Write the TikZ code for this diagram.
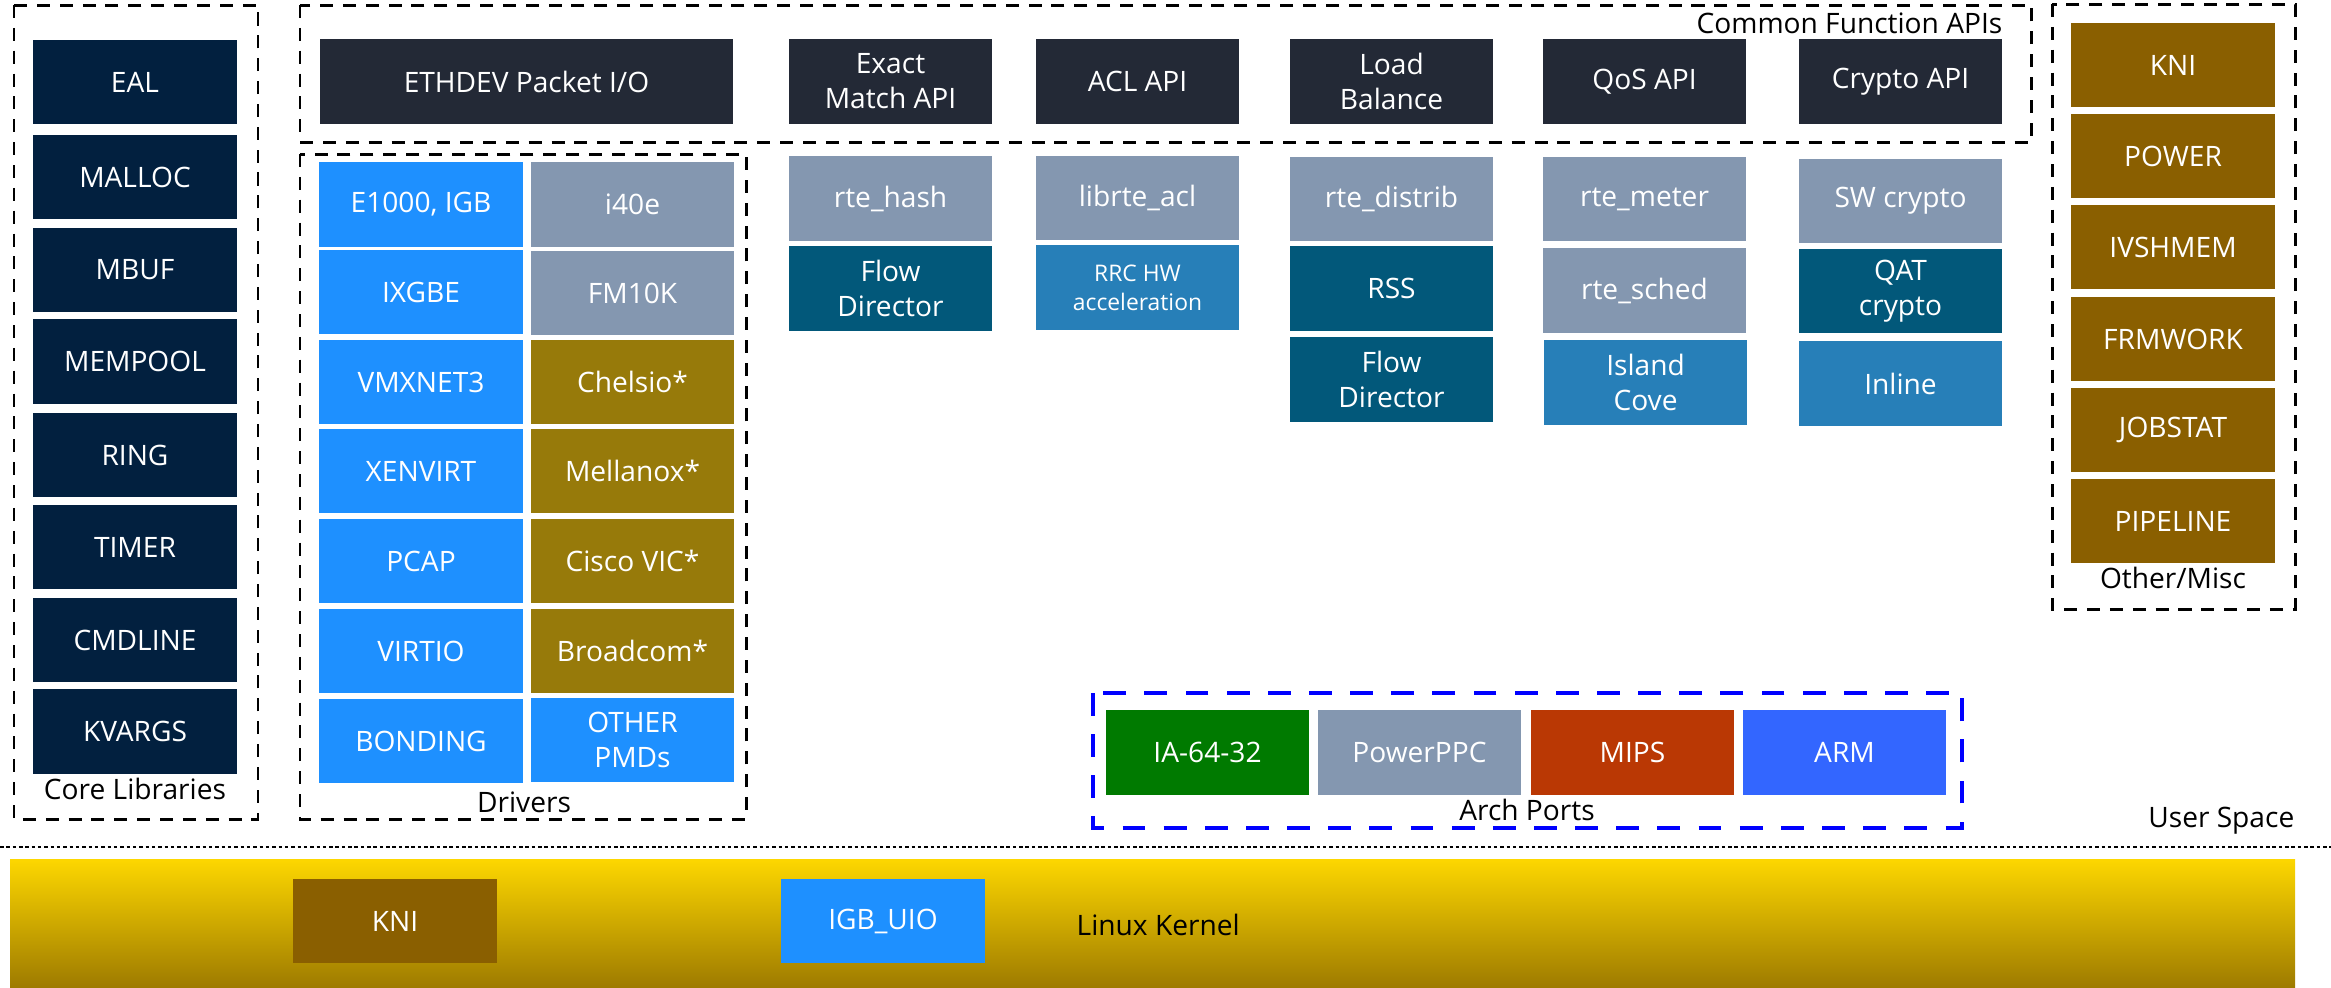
\documentclass[tikz,border=0pt]{standalone}
\usepackage{fontspec}
\setmainfont{Open Sans}
\usetikzlibrary{positioning}
\definecolor{ccore}{HTML}{02203F}
\definecolor{capi}{HTML}{232936}
\definecolor{cdrv}{HTML}{1E90FF}
\definecolor{cslate}{HTML}{8497B0}
\definecolor{colive}{HTML}{977A0A}
\definecolor{cmisc}{HTML}{8A5F00}
\definecolor{cteal}{HTML}{02587A}
\definecolor{chw}{HTML}{277FB8}
\definecolor{cia}{HTML}{007A00}
\definecolor{cmips}{HTML}{BA3804}
\definecolor{carm}{HTML}{3366FF}
\definecolor{kgold}{HTML}{FDD700}
\definecolor{kbrown}{HTML}{9E7B00}
\tikzset{
  every picture/.style={font=\fontsize{8}{10}\selectfont},
  blk/.style={fill=#1, text=white, align=center, inner sep=0pt, minimum width=2.03cm, minimum height=0.845cm},
  blk/.default=ccore,
  frame/.style={draw=black, line width=0.85pt, dash pattern=on 3.7pt off 2.8pt},
  archframe/.style={draw=blue, line width=1.3pt, dash pattern=on 6.5pt off 5.2pt},
  small/.style={font=\fontsize{6.5}{8.2}\selectfont},
  lbl/.style={text=black, inner sep=0pt},
}

\begin{document}
\begin{tikzpicture}[x=0.01cm, y=-0.01cm]
  \useasboundingbox (0,0) rectangle (2331,987);
  % group frames
  \draw[frame] (14,5) rectangle (258,819);
  \draw[frame] (300,154) rectangle (746,819);
  \draw[frame] (300,5) rectangle (2031,142);
  \draw[frame] (2052,4) rectangle (2295,609);
  \draw[archframe] (1093,693) rectangle (1962,828);
  % core libraries
  \node[blk=ccore] (eal) at (135,82) {EAL};
  \node[blk=ccore] (malloc) at (135,177) {MALLOC};
  \node[blk=ccore] (mbuf) at (135,270) {MBUF};
  \node[blk=ccore] (mempool) at (135,361.5) {MEMPOOL};
  \node[blk=ccore] (ring) at (135,455) {RING};
  \node[blk=ccore] (timer) at (135,547) {TIMER};
  \node[blk=ccore] (cmdline) at (135,640) {CMDLINE};
  \node[blk=ccore] (kvargs) at (135,731.5) {KVARGS};
  \node[lbl] (corelbl) at (135,789) {Core Libraries};
  % common function APIs
  \node[blk=capi, minimum width=4.13cm] (ethdev) at (526.5,81.5) {ETHDEV Packet I/O};
  \node[blk=capi] (exact) at (890.5,81.5) {Exact\\Match API};
  \node[blk=capi] (aclapi) at (1137.5,81.5) {ACL API};
  \node[blk=capi] (load) at (1391.5,81.5) {Load\\Balance};
  \node[blk=capi] (qos) at (1644.5,81.5) {QoS API};
  \node[blk=capi] (crypto) at (1900.5,81.5) {Crypto API};
  \node[lbl, anchor=east] (apilbl) at (2003,23) {Common Function APIs};
  % libraries under the APIs
  \node[blk=cslate] (hash) at (890.5,198.5) {rte\_hash};
  \node[blk=cteal] (fdir) at (890.5,288.5) {Flow\\Director};
  \node[blk=cslate] (acl) at (1137.5,198) {librte\_acl};
  \node[blk=chw, small] (rrc) at (1137.5,287.5) {RRC HW\\acceleration};
  \node[blk=cslate] (distrib) at (1391.5,199) {rte\_distrib};
  \node[blk=cteal] (rss) at (1391.5,288.5) {RSS};
  \node[blk=cteal] (fdirb) at (1391.5,379.5) {Flow\\Director};
  \node[blk=cslate] (meter) at (1644.5,199) {rte\_meter};
  \node[blk=cslate] (sched) at (1644.5,290.5) {rte\_sched};
  \node[blk=chw] (island) at (1645.5,382.5) {Island\\Cove};
  \node[blk=cslate] (swcrypto) at (1900.5,201) {SW crypto};
  \node[blk=cteal] (qat) at (1900.5,291) {QAT\\crypto};
  \node[blk=chw] (inline) at (1900.5,383.5) {Inline};
  % drivers
  \node[blk=cdrv] (e1000) at (421,204.5) {E1000, IGB};
  \node[blk=cslate] (i40e) at (632.5,204.5) {i40e};
  \node[blk=cdrv] (ixgbe) at (421,292) {IXGBE};
  \node[blk=cslate] (fm10k) at (632.5,293) {FM10K};
  \node[blk=cdrv] (vmxnet) at (421,382) {VMXNET3};
  \node[blk=colive] (chelsio) at (632.5,382) {Chelsio*};
  \node[blk=cdrv] (xenvirt) at (421,471) {XENVIRT};
  \node[blk=colive] (mellanox) at (632.5,471) {Mellanox*};
  \node[blk=cdrv] (pcap) at (421,561) {PCAP};
  \node[blk=colive] (cisco) at (632.5,561) {Cisco VIC*};
  \node[blk=cdrv] (virtio) at (421,651) {VIRTIO};
  \node[blk=colive] (broadcom) at (632.5,651) {Broadcom*};
  \node[blk=cdrv] (bonding) at (421,741) {BONDING};
  \node[blk=cdrv] (otherpmd) at (632.5,740) {OTHER\\PMDs};
  \node[lbl] (drvlbl) at (524,802) {Drivers};
  % other / misc
  \node[blk=cmisc] (kni) at (2173,65) {KNI};
  \node[blk=cmisc] (power) at (2173,156) {POWER};
  \node[blk=cmisc] (ivshmem) at (2173,247) {IVSHMEM};
  \node[blk=cmisc] (frmwork) at (2173,339) {FRMWORK};
  \node[blk=cmisc] (jobstat) at (2173,430) {JOBSTAT};
  \node[blk=cmisc] (pipeline) at (2173,521) {PIPELINE};
  \node[lbl] (misclbl) at (2173,578) {Other/Misc};
  % arch ports
  \node[blk=cia] (ia) at (1207.5,752.5) {IA-64-32};
  \node[blk=cslate] (ppc) at (1419.5,752.5) {PowerPPC};
  \node[blk=cmips] (mips) at (1632.5,752.5) {MIPS};
  \node[blk=carm] (arm) at (1844.5,752.5) {ARM};
  \node[lbl] (archlbl) at (1527,810) {Arch Ports};
  % user / kernel split
  \node[lbl, anchor=east] (userlbl) at (2295,821) {User Space};
  \draw[line width=0.6pt, dash pattern=on 1pt off 0.8pt] (0,847) -- (2331,847);
  \shade[top color=kgold, bottom color=kbrown] (10,859) rectangle (2295,987);
  \node[blk=cmisc] (kkni) at (395,921) {KNI};
  \node[blk=cdrv] (igbuio) at (883,921) {IGB\_UIO};
  \node[lbl, anchor=west] (kernlbl) at (1076,925) {Linux Kernel};
\end{tikzpicture}
\end{document}
